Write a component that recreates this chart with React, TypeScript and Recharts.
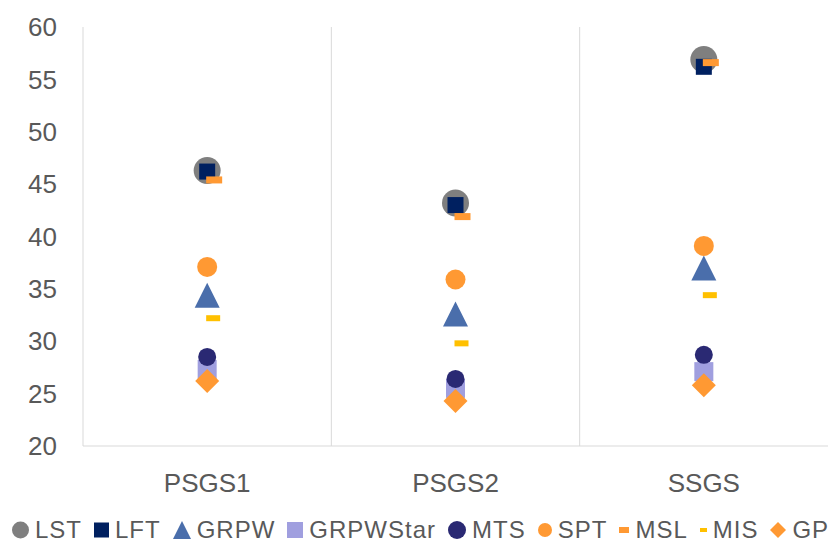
import React from "react";
import { ComposedChart, Scatter, XAxis, YAxis, CartesianGrid, Legend } from "recharts";

const categories = ["PSGS1", "PSGS2", "SSGS"];
const LST = [46.3, 43.2, 56.9];
const LFT = [46.2, 43.0, 56.2];
const GRPW = [34.4, 32.6, 37.0];
const GRPWStar = [27.3, 25.5, 27.1];
const MTS = [28.5, 26.4, 28.7];
const SPT = [37.1, 35.9, 39.1];
const MSL = [45.4, 41.9, 56.6];
const MIS = [32.2, 29.8, 34.4];
const GP = [26.2, 24.3, 25.8];
const yTicks = [20, 25, 30, 35, 40, 45, 50, 55, 60];

type Kind = "circle" | "square" | "triangle" | "diamond" | "dash";
interface Mk {
  kind: Kind;
  w: number;
  h?: number;
  dx?: number;
}

const series: { name: string; values: number[]; color: string; mark: Mk; legend: Mk }[] = [
  { name: "LST", values: LST, color: "#7f7f7f", mark: { kind: "circle", w: 27 }, legend: { kind: "circle", w: 17 } },
  { name: "LFT", values: LFT, color: "#002060", mark: { kind: "square", w: 16 }, legend: { kind: "square", w: 15 } },
  { name: "GRPW", values: GRPW, color: "#4a6eab", mark: { kind: "triangle", w: 25 }, legend: { kind: "triangle", w: 18 } },
  { name: "GRPWStar", values: GRPWStar, color: "#a09fdf", mark: { kind: "square", w: 19 }, legend: { kind: "square", w: 16 } },
  { name: "MTS", values: MTS, color: "#2a2973", mark: { kind: "circle", w: 18 }, legend: { kind: "circle", w: 18 } },
  { name: "SPT", values: SPT, color: "#ff9933", mark: { kind: "circle", w: 20 }, legend: { kind: "circle", w: 14 } },
  { name: "MSL", values: MSL, color: "#ff9933", mark: { kind: "dash", w: 16, h: 7, dx: 7 }, legend: { kind: "dash", w: 10, h: 6 } },
  { name: "MIS", values: MIS, color: "#ffc000", mark: { kind: "dash", w: 14, h: 6, dx: 6 }, legend: { kind: "dash", w: 7, h: 4 } },
  { name: "GP", values: GP, color: "#ff9933", mark: { kind: "diamond", w: 24 }, legend: { kind: "diamond", w: 16 } },
];

const data = categories.map((cat, i) => {
  const row: Record<string, string | number> = { cat };
  series.forEach((s) => (row[s.name] = s.values[i]));
  return row;
});

function marker(m: Mk, color: string, cx: number, cy: number) {
  const r = m.w / 2;
  const x = cx + (m.dx || 0);
  switch (m.kind) {
    case "circle":
      return <circle cx={x} cy={cy} r={r} fill={color} />;
    case "square":
      return <rect x={x - r} y={cy - r} width={m.w} height={m.w} fill={color} />;
    case "triangle":
      return <polygon points={`${x},${cy - r} ${x - r},${cy + r} ${x + r},${cy + r}`} fill={color} />;
    case "diamond":
      return <polygon points={`${x},${cy - r} ${x + r},${cy} ${x},${cy + r} ${x - r},${cy}`} fill={color} />;
    default: {
      const h = m.h || 4;
      return <rect x={x - r} y={cy - h / 2} width={m.w} height={h} fill={color} />;
    }
  }
}

const font = "'Liberation Sans', Arial, sans-serif";

function LegendBox() {
  return (
    <div
      style={{
        display: "flex",
        alignItems: "center",
        height: 42,
        paddingTop: 18,
        paddingLeft: 12,
        boxSizing: "border-box",
        fontFamily: font,
        fontSize: 24,
        lineHeight: "22px",
        letterSpacing: 1,
        color: "#595959",
        whiteSpace: "nowrap",
      }}
    >
      {series.map((s) => (
        <div key={s.name} style={{ display: "flex", alignItems: "center", marginRight: 12 }}>
          <svg width={s.legend.w} height={18} style={{ marginRight: 6 }}>
            {marker(s.legend, s.color, s.legend.w / 2, 9)}
          </svg>
          <span>{s.name}</span>
        </div>
      ))}
    </div>
  );
}

export default function App() {
  return (
    <div style={{ position: "absolute", left: 0, top: 0 }}>
      <ComposedChart width={829} height={542} data={data} margin={{ top: 27, right: 1, bottom: 0, left: 0 }}>
        <CartesianGrid
          horizontal={false}
          stroke="#d9d9d9"
          verticalCoordinatesGenerator={({ offset }: any) =>
            categories.map((_, i) => offset.left + (i * offset.width) / categories.length)
          }
        />
        <XAxis
          dataKey="cat"
          type="category"
          scale="band"
          height={54}
          axisLine={{ stroke: "#d9d9d9" }}
          tickLine={false}
          tickSize={0}
          tickMargin={28}
          tick={{ fill: "#595959", fontSize: 26, fontFamily: font }}
        />
        <YAxis
          type="number"
          domain={[20, 60]}
          ticks={yTicks}
          width={83}
          axisLine={false}
          tickLine={false}
          tickSize={0}
          tickMargin={26}
          tick={{ fill: "#595959", fontSize: 26, fontFamily: font }}
        />
        <Legend verticalAlign="bottom" height={42} wrapperStyle={{ left: 0 }} content={() => <LegendBox />} />
        {series.map((s) => (
          <Scatter
            key={s.name}
            name={s.name}
            dataKey={s.name}
            fill={s.color}
            isAnimationActive={false}
            shape={(p: any) => marker(s.mark, s.color, p.cx, p.cy)}
          />
        ))}
      </ComposedChart>
    </div>
  );
}
